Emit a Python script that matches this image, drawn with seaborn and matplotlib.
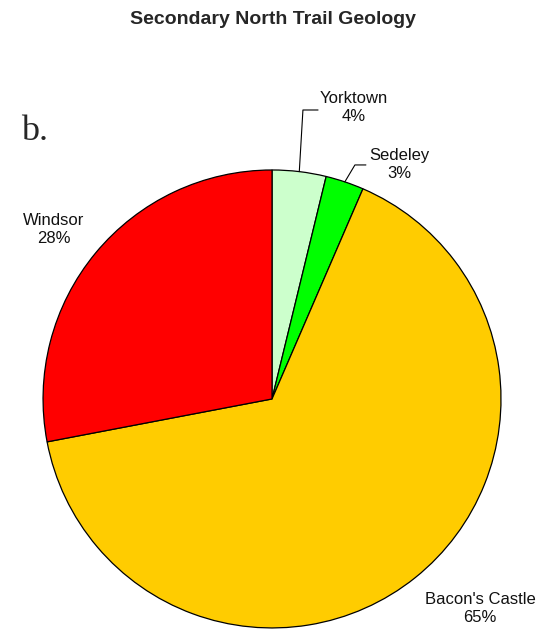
import matplotlib
matplotlib.use("Agg")
import matplotlib.pyplot as plt
import seaborn as sns
import numpy as np

# Data
units = ["Yorktown", "Sedeley", "Bacon's Castle", "Windsor"]
shares = [3.8, 2.7, 65.5, 28.0]
pct_labels = ["4%", "3%", "65%", "28%"]
colors = ["#CCFFCC", "#00FF00", "#FFCC00", "#FF0000"]

sns.set_style("white")
plt.rcParams["font.family"] = ["Liberation Sans", "DejaVu Sans"]

fig = plt.figure(figsize=(5.5, 6.31), dpi=100)
ax = fig.add_axes([0, 0, 1, 1])

wedges, _ = ax.pie(shares, colors=colors, startangle=90, counterclock=False,
                   radius=1.0, center=(0, 0),
                   wedgeprops=dict(edgecolor="black", linewidth=0.9))

ax.set_xlim(-1.188, 1.214)
ax.set_ylim(-1.013, 1.742)
ax.set_aspect("equal")
ax.axis("off")

# label positions (data coords) and leader lines for the small slices
text_pos = {
    "Yorktown": (0.356, 1.271),
    "Sedeley": (0.555, 1.026),
    "Windsor": (-0.952, 0.738),
    "Bacon's Castle": (0.908, -0.917),
}
leaders = {
    "Yorktown": [(0.135, 1.262), (0.201, 1.262)],
    "Sedeley": [(0.362, 1.022), (0.41, 1.022)],
}

for w, name, pct in zip(wedges, units, pct_labels):
    x, y = text_pos[name]
    ax.text(x, y, f"{name}\n{pct}", ha="center", va="center",
            fontsize=12, linespacing=1.25, color="#111111")
    if name in leaders:
        mid = np.deg2rad((w.theta1 + w.theta2) / 2)
        px, py = np.cos(mid), np.sin(mid)
        pts = [(px, py)] + leaders[name]
        ax.plot([p[0] for p in pts], [p[1] for p in pts], color="black", lw=0.8)

fig.text(273 / 550, 1 - 19 / 631, "Secondary North Trail Geology", ha="center",
         va="center", fontsize=14, fontweight="bold")
fig.text(21 / 550, 1 - 131 / 631, "b.", ha="left", va="center",
         fontsize=26, family=["Liberation Serif", "DejaVu Serif"])

fig.savefig("out.png", dpi=100)
